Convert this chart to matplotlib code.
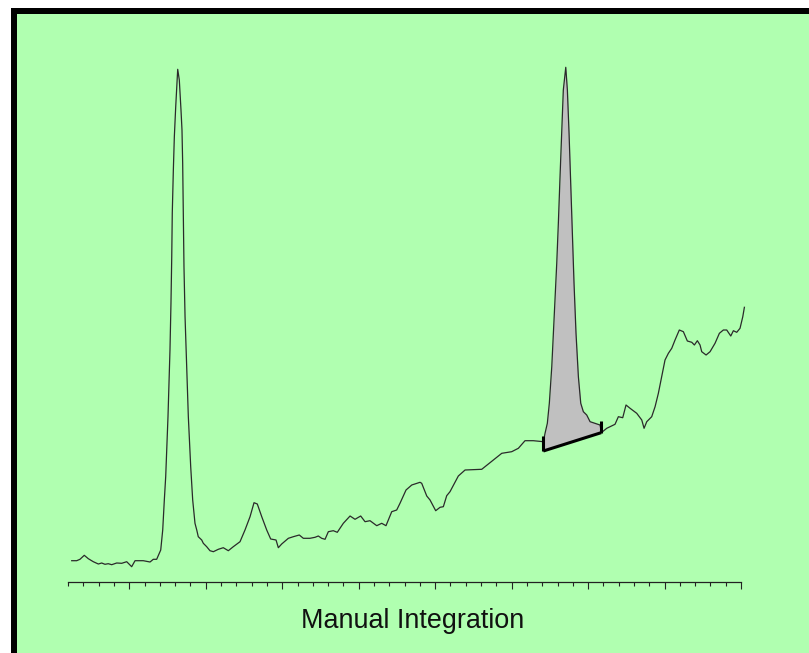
import matplotlib.pyplot as plt
from matplotlib.patches import Rectangle
from matplotlib.ticker import MultipleLocator, FixedLocator
import numpy as np

# retention time (min) and detector signal (arbitrary units)
time = [0.247, 0.312, 0.355, 0.411, 0.464, 0.529, 0.595, 0.639, 0.682, 0.725,
        0.770, 0.835, 0.901, 0.966, 1.031, 1.075, 1.183, 1.271, 1.314, 1.358,
        1.411, 1.437, 1.458, 1.476, 1.489, 1.506, 1.519, 1.532, 1.545, 1.555,
        1.562, 1.576, 1.589, 1.607, 1.633, 1.654, 1.676, 1.689, 1.698, 1.706,
        1.715, 1.729, 1.751, 1.772, 1.803, 1.829, 1.859, 1.882, 1.902, 1.947,
        1.968, 2.012, 2.055, 2.099, 2.164, 2.229, 2.295, 2.360, 2.448, 2.513,
        2.579, 2.631, 2.674, 2.732, 2.797, 2.849, 2.919, 2.949, 2.993, 3.080,
        3.145, 3.223, 3.276, 3.363, 3.429, 3.472, 3.516, 3.560, 3.603, 3.668,
        3.720, 3.799, 3.887, 3.952, 4.026, 4.083, 4.148, 4.236, 4.301, 4.357,
        4.432, 4.497, 4.540, 4.619, 4.694, 4.802, 4.824, 4.890, 4.933, 5.007,
        5.064, 5.107, 5.151, 5.194, 5.303, 5.391, 5.609, 5.805, 5.871, 6.001,
        6.088, 6.175, 6.284, 6.415, 6.437, 6.467, 6.493, 6.525, 6.546, 6.568,
        6.590, 6.611, 6.633, 6.655, 6.676, 6.708, 6.729, 6.751, 6.773, 6.794,
        6.816, 6.842, 6.873, 6.904, 6.938, 6.982, 7.026, 7.091, 7.156, 7.176,
        7.244, 7.352, 7.396, 7.453, 7.496, 7.549, 7.636, 7.702, 7.732, 7.767,
        7.832, 7.876, 7.919, 7.963, 8.006, 8.050, 8.094, 8.137, 8.193, 8.246,
        8.298, 8.356, 8.390, 8.429, 8.464, 8.486, 8.543, 8.595, 8.660, 8.717,
        8.769, 8.813, 8.866, 8.900, 8.944, 8.987, 9.023, 9.044]
signal = [21.0, 21.0, 22.4, 26.4, 23.0, 20.0, 17.7, 18.7, 17.4, 18.0,
          17.0, 18.7, 18.4, 20.0, 15.0, 21.0, 21.0, 19.7, 22.4, 22.4,
          31.7, 51.7, 81.7, 105.0, 131.7, 165.0, 198.7, 231.7, 278.7, 325.0,
          368.7, 411.7, 445.0, 475.0, 512.4, 501.7, 471.7, 451.7, 418.4, 371.7,
          315.0, 265.0, 215.0, 165.0, 115.0, 81.7, 58.4, 51.7, 45.0, 41.7,
          38.4, 35.0, 31.0, 30.0, 32.4, 34.0, 31.0, 35.0, 40.0, 51.7,
          65.0, 79.0, 77.7, 65.0, 51.7, 42.7, 41.7, 34.0, 37.7, 43.4,
          45.0, 46.7, 43.4, 43.4, 44.4, 45.7, 43.4, 42.4, 50.0, 51.0,
          49.4, 58.4, 65.7, 62.4, 65.7, 60.0, 61.0, 56.0, 58.4, 56.0,
          70.0, 71.7, 78.4, 91.7, 96.7, 99.4, 98.4, 85.7, 81.7, 71.0,
          74.4, 75.0, 86.0, 90.0, 105.7, 111.7, 112.4, 124.4, 128.4, 130.0,
          133.4, 141.0, 141.0, 140.0, 148.4, 158.4, 178.4, 215.0, 248.4, 281.7,
          318.4, 358.4, 405.0, 448.4, 491.7, 514.4, 491.7, 448.4, 398.4, 348.4,
          298.4, 248.4, 205.0, 178.4, 170.0, 166.7, 160.0, 158.4, 156.7, 149.2,
          153.4, 157.4, 165.0, 164.0, 176.7, 173.4, 168.4, 161.7, 153.4, 160.0,
          165.0, 175.0, 188.4, 205.0, 221.7, 228.4, 233.4, 241.7, 251.7, 250.0,
          240.7, 239.4, 236.7, 241.0, 236.7, 230.0, 226.7, 230.0, 238.4, 248.4,
          251.7, 251.7, 245.7, 251.0, 249.4, 253.4, 265.0, 274.4]

# manual integration: baseline drop points (start, end)
base_t = [6.415, 7.170]
base_s = [130.7, 149.0]
marker_top = [145.7, 160.7]
marker_bot = [130.7, 149.0]

title = "Manual Integration"

time = np.array(time)
signal = np.array(signal)

fig = plt.figure(figsize=(8.09, 6.53), dpi=100)
fig.patch.set_facecolor('white')
fig.add_artist(Rectangle((11 / 809, 0), 1, 645 / 653, transform=fig.transFigure,
                         facecolor='black', edgecolor='none', zorder=-2))
fig.add_artist(Rectangle((16.7 / 809, 0), 1, 639 / 653, transform=fig.transFigure,
                         facecolor='#b0ffb0', edgecolor='none', zorder=-1))

ax = fig.add_axes([0, 0, 1, 1])
ax.set_facecolor('none')
ax.set_xlim(-0.691, 9.889)
ax.set_ylim(-71.3, 581.7)

# shaded peak area above the drawn baseline
mask = (time >= base_t[0]) & (time <= base_t[1])
ft = np.concatenate([[base_t[0]], time[mask], [base_t[1]]])
fs = np.concatenate([[signal[mask][0]], signal[mask], [signal[mask][-1]]])
fb = np.interp(ft, base_t, base_s)
ax.fill_between(ft, fb, fs, color='#c0c0c0', linewidth=0, zorder=2)

ax.plot(time, signal, color='#2a2a2a', linewidth=0.9, zorder=3)

ax.plot(base_t, base_s, color='black', linewidth=2.2, solid_capstyle='butt', zorder=4)
ax.vlines(base_t, marker_bot, marker_top, color='black', linewidth=2.2, zorder=4)

for s in ['top', 'left', 'right']:
    ax.spines[s].set_visible(False)
ax.spines['bottom'].set_position(('data', 0))
ax.spines['bottom'].set_bounds(0.2, 9.0)
ax.spines['bottom'].set_color('#222222')
ax.spines['bottom'].set_linewidth(0.9)
ax.xaxis.set_major_locator(FixedLocator(np.arange(1, 10)))
ax.xaxis.set_minor_locator(FixedLocator([0.2 + 0.2 * i for i in range(45)]))
ax.tick_params(axis='x', which='major', direction='out', length=5.0, width=0.8,
               color='#222222', labelbottom=False)
ax.tick_params(axis='x', which='minor', direction='out', length=2.9, width=0.8,
               color='#222222')
ax.set_yticks([])

fig.text(412.7 / 809, (653 - 628.3) / 653, title, ha='center', va='baseline',
         fontsize=19.4, family=['Liberation Sans', 'DejaVu Sans'], color='#111111')

fig.savefig('out.png', dpi=100)
